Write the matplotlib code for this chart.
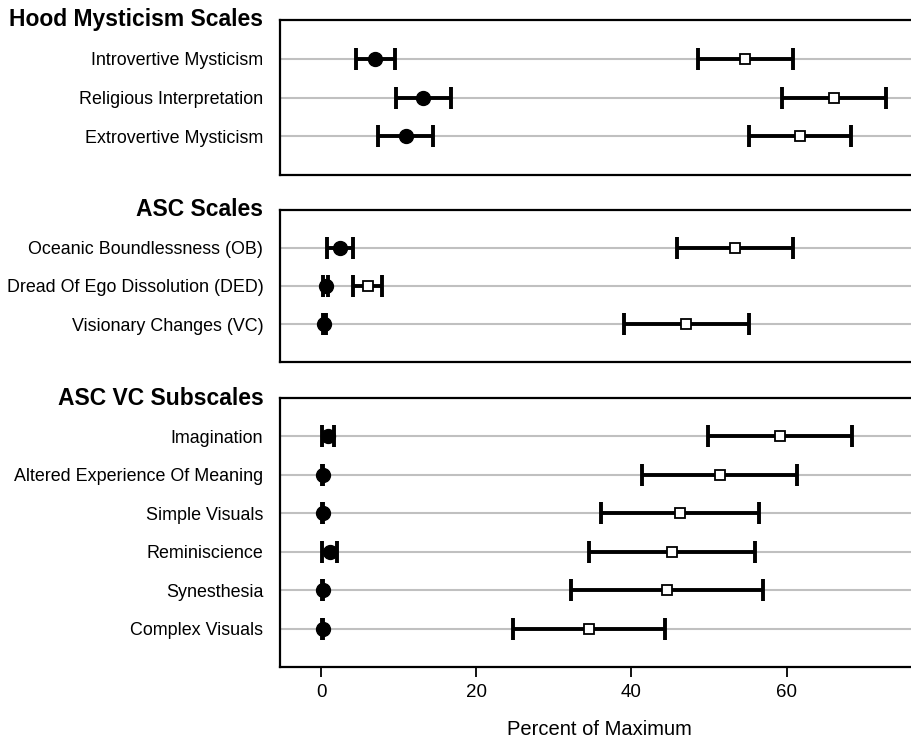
import matplotlib.pyplot as plt

plt.rcParams["font.family"] = ["Liberation Sans", "DejaVu Sans"]

# section titles
section_titles = ["Hood Mysticism Scales", "ASC Scales", "ASC VC Subscales"]

# Hood Mysticism Scales
hood_labels = ["Introvertive Mysticism", "Religious Interpretation", "Extrovertive Mysticism"]
hood_low_mean = [7.0, 13.2, 10.9]
hood_low_err = [2.5, 3.5, 3.5]
hood_high_mean = [54.7, 66.1, 61.7]
hood_high_err = [6.1, 6.7, 6.6]

# ASC Scales
asc_labels = ["Oceanic Boundlessness (OB)", "Dread Of Ego Dissolution (DED)", "Visionary Changes (VC)"]
asc_low_mean = [2.4, 0.6, 0.4]
asc_low_err = [1.7, 0.3, 0.2]
asc_high_mean = [53.4, 6.0, 47.1]
asc_high_err = [7.5, 1.9, 8.0]

# ASC VC Subscales
vc_labels = ["Imagination", "Altered Experience Of Meaning", "Simple Visuals",
             "Reminiscience", "Synesthesia", "Complex Visuals"]
vc_low_mean = [0.9, 0.2, 0.2, 1.1, 0.2, 0.2]
vc_low_err = [0.75, 0.1, 0.1, 0.95, 0.1, 0.1]
vc_high_mean = [59.2, 51.4, 46.3, 45.2, 44.6, 34.5]
vc_high_err = [9.3, 10.0, 10.2, 10.7, 12.4, 9.8]

x_ticks = [0, 20, 40, 60]

panels = [
    (hood_labels, hood_low_mean, hood_low_err, hood_high_mean, hood_high_err),
    (asc_labels, asc_low_mean, asc_low_err, asc_high_mean, asc_high_err),
    (vc_labels, vc_low_mean, vc_low_err, vc_high_mean, vc_high_err),
]

# axes boxes in figure fractions: [left, bottom, width, height]
boxes = [
    [0.307, 0.763, 0.70, 0.210],
    [0.307, 0.510, 0.70, 0.206],
    [0.307, 0.0974, 0.70, 0.364],
]

fig = plt.figure(figsize=(9.12, 7.39), dpi=100)

for i, (labels, lo_m, lo_e, hi_m, hi_e) in enumerate(panels):
    ax = fig.add_axes(boxes[i])
    n = len(labels)
    y = list(range(1, n + 1))

    for yy in y:
        ax.axhline(yy, color="#c0c0c0", lw=1.5, zorder=0)

    # error bars first, markers on top
    for m, e in [(lo_m, lo_e), (hi_m, hi_e)]:
        ax.errorbar(m, y, xerr=e, fmt="none", ecolor="black",
                    elinewidth=2.8, capsize=8, capthick=2.8, zorder=2)
    ax.plot(lo_m, y, "o", color="black", ms=10, zorder=3)
    ax.plot(hi_m, y, "s", mfc="white", mec="black", mew=1.3, ms=7.5, zorder=3)

    ax.set_xlim(-5.3, 77.0)
    ax.set_ylim(n + 1, 0)
    ax.set_yticks(y)
    ax.set_yticklabels(labels, fontsize=12.9)
    ax.tick_params(axis="y", length=0, pad=12)

    for side in ["left", "top", "bottom"]:
        ax.spines[side].set_linewidth(1.6)
    ax.spines["right"].set_visible(False)

    ax.annotate(section_titles[i], xy=(0, 1), xycoords="axes fraction",
                xytext=(-12, 0), textcoords="offset points",
                ha="right", va="center", fontsize=16.5, fontweight="bold")

    if i < 2:
        ax.set_xticks([])
    else:
        ax.set_xticks(x_ticks)
        ax.tick_params(axis="x", length=7, width=1.3, labelsize=13.5, pad=5)
        ax.set_xlabel("Percent of Maximum", fontsize=14.5, labelpad=14)

fig.savefig("out.png", dpi=100)
